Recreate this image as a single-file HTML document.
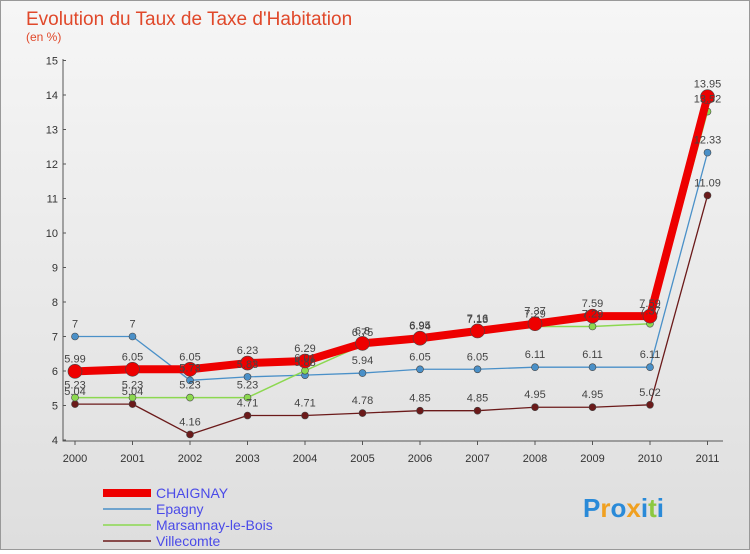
<!DOCTYPE html>
<html><head><meta charset="utf-8">
<style>
body{margin:0;width:750px;height:550px;overflow:hidden;font-family:"Liberation Sans",sans-serif;}
#wrap{position:relative;width:748px;height:548px;border:1px solid #999;background:linear-gradient(#f6f6f6,#dedede);}
</style></head>
<body>
<div id="wrap">
<svg id="svg" width="748" height="548"></svg>
</div>
<script>
const years=["2000","2001","2002","2003","2004","2005","2006","2007","2008","2009","2010","2011"];
const chaignay=[5.99,6.05,6.05,6.23,6.29,6.8,6.95,7.16,7.37,7.59,7.59,13.95];
const epagny=[7,7,5.73,5.83,5.88,5.94,6.05,6.05,6.11,6.11,6.11,12.33];
const marsannay=[5.23,5.23,5.23,5.23,6.01,6.75,6.94,7.13,7.29,7.29,7.37,13.52];
const villecomte=[5.04,5.04,4.16,4.71,4.71,4.78,4.85,4.85,4.95,4.95,5.02,11.09];
const yTicks=[4,5,6,7,8,9,10,11,12,13,14,15];
const names=["CHAIGNAY","Epagny","Marsannay-le-Bois","Villecomte"];
const NS="http://www.w3.org/2000/svg";
const svg=document.getElementById('svg');
function el(t,a,p){const e=document.createElementNS(NS,t);for(const k in a)e.setAttribute(k,a[k]);(p||svg).appendChild(e);return e;}
const x=i=>74+i*57.5, y=v=>439-(v-4)*34.5;
let t=el('text',{x:25,y:24,'font-size':19,fill:'#e0482a'});t.textContent="Evolution du Taux de Taxe d'Habitation";

t=el('text',{x:25,y:40,'font-size':12,fill:'#e0482a'});t.textContent="(en %)";

let ax=el('path',{d:`M62 58V440H722`,stroke:'#555',fill:'none','stroke-width':1});

yTicks.forEach(v=>{let tt=el('text',{x:57,y:y(v)+4,'font-size':11,fill:'#333','text-anchor':'end'});tt.textContent=v;

el('line',{x1:62,x2:65,y1:y(v),y2:y(v),stroke:'#555'});});
years.forEach((yr,i)=>{let tt=el('text',{x:x(i),y:461,'font-size':11,fill:'#333','text-anchor':'middle'});tt.textContent=yr;

el('line',{x1:x(i),x2:x(i),y1:440,y2:444,stroke:'#555'});});
const series=[
 {d:villecomte,c:'#6b1a1a',w:1.3,r:3.5,n:'villecomte'},
 {d:epagny,c:'#4a90c8',w:1.3,r:3.5,n:'epagny'},
 {d:marsannay,c:'#8cd850',w:1.5,r:3.5,n:'marsannay'},
 {d:chaignay,c:'#ee0000',w:8,r:7,n:'chaignay'}];
series.forEach(s=>{
 let p=el('polyline',{points:s.d.map((v,i)=>x(i)+','+y(v)).join(' '),fill:'none',stroke:s.c,'stroke-width':s.w,'stroke-linejoin':'round'});
 
 s.d.forEach((v,i)=>{let c=el('circle',{cx:x(i),cy:y(v),r:s.r,fill:s.c,stroke:'#444','stroke-width':0.6});
 });
});
series.forEach(s=>{s.d.forEach((v,i)=>{let tt=el('text',{x:x(i),y:y(v)-9,'font-size':11,fill:'#444','text-anchor':'middle'});tt.textContent=v;
});});
const lc=['#ee0000','#4a90c8','#8cd850','#6b1a1a'],lw=[8,1.5,1.5,1.5];
names.forEach((n,i)=>{const yy=492+i*16;
 let l=el('line',{x1:102,x2:150,y1:yy,y2:yy,stroke:lc[i],'stroke-width':lw[i]});
 
 let tt=el('text',{x:155,y:yy+5,'font-size':14,fill:'#4a4ae8'});tt.textContent=n;
 });
let lg=el('text',{x:582,y:516,'font-size':26,'font-weight':'bold',fill:'#2a8ad8'});

[['P','#2a8ad8'],['r','#f0a020'],['o','#2a8ad8'],['x','#f0a020'],['i','#2a8ad8'],['t','#8cc840'],['i','#2a8ad8']].forEach(([c,f])=>{let s=el('tspan',{fill:f},lg);s.textContent=c;});
</script>
</body></html>
